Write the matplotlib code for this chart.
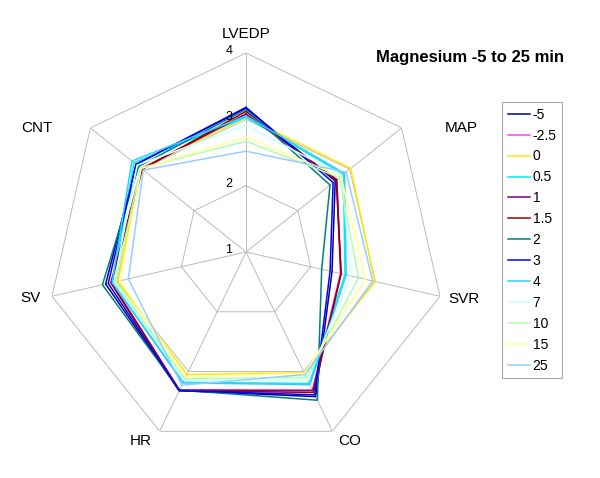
import numpy as np
import matplotlib
matplotlib.use("Agg")
import matplotlib.pyplot as plt

plt.rcParams['font.family'] = ['Liberation Sans', 'DejaVu Sans']

# eixos do radar (sentido horário a partir do topo)
eixos = ['LVEDP', 'MAP', 'SVR', 'CO', 'HR', 'SV', 'CNT']
niveis = [1, 2, 3, 4]

# tempos (min) e valores, na ordem dos eixos
tempos = ['-5', '-2.5', '0', '0.5', '1', '1.5', '2', '3', '4', '7', '10', '15', '25']
v_m5 = [3.17, 2.72, 2.33, 3.42, 3.32, 3.17, 3.12]
v_m25 = [3.08, 2.75, 2.46, 3.31, 3.31, 3.08, 3.02]
v_0 = [3.03, 3.02, 2.99, 3.02, 3.05, 2.98, 3.02]
v_05 = [3.03, 2.88, 2.53, 3.20, 3.18, 3.06, 3.16]
v_1 = [3.08, 2.75, 2.47, 3.32, 3.31, 3.08, 3.01]
v_15 = [3.12, 2.74, 2.47, 3.35, 3.32, 3.09, 3.00]
v_2 = [3.15, 2.62, 2.17, 3.48, 3.31, 3.22, 3.07]
v_3 = [3.18, 2.68, 2.30, 3.39, 3.32, 3.13, 3.12]
v_4 = [3.05, 2.90, 2.55, 3.22, 3.19, 3.07, 3.20]
v_7 = [2.91, 2.85, 2.62, 3.14, 3.15, 3.04, 3.10]
v_10 = [2.67, 2.80, 2.74, 3.10, 3.12, 3.02, 3.03]
v_15b = [2.73, 2.83, 2.85, 3.03, 3.09, 2.95, 3.02]
v_25 = [2.52, 2.93, 2.96, 3.05, 3.23, 2.82, 2.98]
valores = [v_m5, v_m25, v_0, v_05, v_1, v_15, v_2, v_3, v_4, v_7, v_10, v_15b, v_25]

cores = ['#00008C', '#FF40FF', '#FFE800', '#00F0F0', '#800080', '#990000',
         '#008080', '#0000FF', '#33CCFF', '#CCFFFF', '#B0FFB0', '#FFFF99', '#99CCFF']

n = len(eixos)
angulos = np.arange(n) * 2 * np.pi / n
fechado = np.append(angulos, angulos[0])

fig = plt.figure(figsize=(6, 4.78), dpi=100)
ax = fig.add_axes([47 / 600, 27 / 478, 398 / 600, 398 / 478], projection='polar')
ax.set_theta_offset(np.pi / 2)
ax.set_theta_direction(-1)
ax.set_ylim(1, 4)
ax.grid(False)
ax.spines['polar'].set_visible(False)
ax.set_xticks([])
ax.set_yticks([])
ax.patch.set_alpha(0)

# grade poligonal
for nv in niveis[1:]:
    ax.plot(fechado, [nv] * (n + 1), color='#BBBBBB', lw=0.7, zorder=1)
for a in angulos:
    ax.plot([a, a], [1, 4], color='#BBBBBB', lw=0.7, zorder=1)

for nv in niveis:
    ax.annotate(str(nv), xy=(0, nv), xytext=(-17, 2), textcoords='offset pixels',
                ha='center', va='center', fontsize=9)

# rótulos dos eixos
desloc = [(0, 19), (60, 0), (24, -3), (17, -10), (-19, -10), (-22, -2), (-53, 0)]
for a, nome, d in zip(angulos, eixos, desloc):
    ax.annotate(nome, xy=(a, 4), xytext=d, textcoords='offset pixels',
                ha='center', va='center', fontsize=11)

for t, v, c in zip(tempos, valores, cores):
    ax.plot(fechado, v + v[:1], color=c, lw=1.1, label=t, zorder=2)

fig.text(470 / 600, 1 - 57 / 478, 'Magnesium -5 to 25 min', ha='center', va='center',
         fontsize=12, fontweight='bold')

leg = fig.legend(loc='upper left', bbox_to_anchor=(502 / 600, 1 - 102 / 478),
                 fontsize=10, handlelength=1.6, handletextpad=0.2, borderpad=0.4,
                 borderaxespad=0, fancybox=False, framealpha=1, labelspacing=0.5)
leg.get_frame().set_edgecolor('#AAAAAA')
leg.get_frame().set_linewidth(0.8)

plt.savefig('out.png', dpi=100)
